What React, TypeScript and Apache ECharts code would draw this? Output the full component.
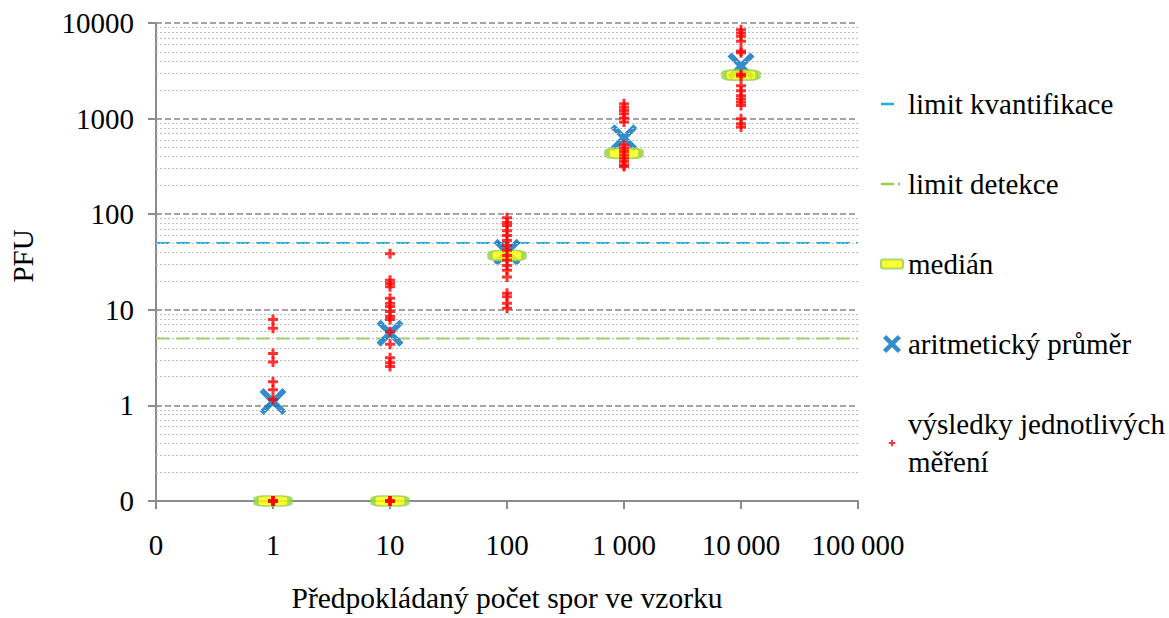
import React, { useEffect, useRef } from "react";
import * as echarts from "echarts";

// ---- data ----
const xTickLabels = ["0", "1", "10", "100", "1\u2009000", "10\u2009000", "100\u2009000"];
const yTickLabels = ["0", "1", "10", "100", "1000", "10000"];
const groups = [1, 10, 100, 1000, 10000];
const medians = [0, 0, 37, 433, 2850];
const means = [1.1, 5.7, 40, 630, 3550];
const limitQuant = 50;
const limitDetect = 5;
const meas1 = [7.9, 6.4, 3.5, 2.85, 1.77, 1.46, 1.15, 0, 0, 0, 0, 0];
const meas10 = [38.5, 20.4, 18.8, 17.4, 13.2, 11.7, 10.8, 9.6, 8.5, 7.9, 5.9, 4.35, 3.16, 2.8, 2.55, 0, 0, 0, 0];
const meas100 = [92, 82, 76, 67, 60, 53, 47, 42, 37, 33, 29, 26, 22, 14.9, 13.7, 11.7, 10.4];
const meas1000 = [1426, 1318, 1216, 1125, 1016, 923, 528, 489, 452, 416, 385, 356, 328, 315];
const meas10000 = [8500, 7860, 7250, 6440, 5080, 4890, 2910, 2795, 2200, 1957, 1738, 1606, 1486, 1369, 998, 885, 818];

const ZERO = 0.1; // axis floor, labelled "0"
const X_MAX = 100000;
const Y_MAX = 10000;
const FONT = "'Liberation Serif', 'Times New Roman', serif";

const nameQuant = "limit kvantifikace";
const nameDetect = "limit detekce";
const nameMedian = "medián";
const nameMean = "aritmetický průměr";
const nameMeas = "výsledky jednotlivých měření";

const z0 = (v: number) => (v <= 0 ? ZERO : v);

const X_PATH =
  "path://M3,0 L10,7 L17,0 L20,3 L13,10 L20,17 L17,20 L10,13 L3,20 L0,17 L7,10 L0,3 Z";
const X_ICON =
  "path://M3.5,0 L10,6.5 L16.5,0 L20,3.5 L13.5,10 L20,16.5 L16.5,20 L10,13.5 L3.5,20 L0,16.5 L6.5,10 L0,3.5 Z";
const PLUS_PATH =
  "path://M3.5,0 H6.5 V3.5 H10 V6.5 H6.5 V10 H3.5 V6.5 H0 V3.5 H3.5 Z";
const PLUS_ICON =
  "path://M3.5,0 H6.5 V3.5 H10 V6.5 H6.5 V10 H3.5 V6.5 H0 V3.5 H3.5 Z M-9,-9 Z M19,19 Z";
const DASH_ICON = "path://M0,0 H13 V2.5 H0 Z M22,0 Z";
const DASHDOT_ICON = "path://M0,0 H13 V2.5 H0 Z M17,0 H19 V2.5 H17 Z M22,0 Z";
const MEDIAN_ICON = "path://M2,0 H18 Q20,0 20,2 V6 Q20,8 18,8 H2 Q0,8 0,6 V2 Q0,0 2,0 Z";

export default function App() {
  const ref = useRef<HTMLDivElement>(null);
  useEffect(() => {
    if (!ref.current) return;
    const chart = echarts.init(ref.current, null, { renderer: "svg" });

    const minorY: number[] = [];
    for (let d = ZERO; d < Y_MAX; d *= 10) {
      for (let k = 2; k <= 9; k++) minorY.push(+(d * k).toPrecision(6));
    }

    const measAll: number[][] = [];
    [meas1, meas10, meas100, meas1000, meas10000].forEach((arr, i) => {
      arr.forEach((v) => measAll.push([groups[i], z0(v)]));
    });

    const axisLabelStyle = { fontFamily: FONT, fontSize: 29, color: "#000" };

    chart.setOption({
      animation: false,
      backgroundColor: "#fff",
      grid: { left: 152, right: 311, top: 23, bottom: 111 },
      xAxis: {
        type: "log",
        logBase: 10,
        min: ZERO,
        max: X_MAX,
        name: "Předpokládaný počet spor ve vzorku",
        nameLocation: "middle",
        nameGap: 82,
        nameTextStyle: { fontFamily: FONT, fontSize: 29.5, color: "#000" },
        axisLine: { show: true, lineStyle: { color: "#8c8c8c", width: 2 } },
        axisTick: { show: true, inside: false, length: 8, lineStyle: { color: "#8c8c8c", width: 2 } },
        minorTick: { show: false },
        splitLine: { show: false },
        axisLabel: {
          ...axisLabelStyle,
          margin: 29,
          formatter: (v: number) => xTickLabels[Math.round(Math.log10(v)) + 1] ?? "",
        },
      },
      yAxis: {
        type: "log",
        logBase: 10,
        min: ZERO,
        max: Y_MAX,
        name: "PFU",
        nameLocation: "middle",
        nameRotate: 90,
        nameGap: 119,
        nameTextStyle: { fontFamily: FONT, fontSize: 29, color: "#000", padding: [0, 0, 0, 12] },
        axisLine: { show: true, lineStyle: { color: "#8c8c8c", width: 2 } },
        axisTick: { show: true, inside: false, length: 8, lineStyle: { color: "#8c8c8c", width: 2 } },
        splitLine: { show: true, lineStyle: { color: "#868686", width: 1.5, type: [6, 3] } },
        axisLabel: {
          ...axisLabelStyle,
          margin: 22,
          formatter: (v: number) => yTickLabels[Math.round(Math.log10(v)) + 1] ?? "",
        },
      },
      legend: {
        orient: "vertical",
        left: 875,
        top: 80,
        itemGap: 42,
        itemWidth: 22,
        itemHeight: 18,
        symbolKeepAspect: true,
        selectedMode: false,
        textStyle: { fontFamily: FONT, fontSize: 29, lineHeight: 38, color: "#000" },
        formatter: (name: string) =>
          name === nameMeas ? "výsledky jednotlivých\nměření" : name,
        data: [
          { name: nameQuant, icon: DASH_ICON },
          { name: nameDetect, icon: DASHDOT_ICON },
          { name: nameMedian, icon: MEDIAN_ICON },
          { name: nameMean, icon: X_ICON },
          { name: nameMeas, icon: PLUS_ICON },
        ],
      },
      series: [
        {
          name: "_grid",
          type: "line",
          data: [[ZERO, ZERO]],
          showSymbol: false,
          symbol: "none",
          silent: true,
          z: 1,
          markLine: {
            silent: true,
            symbol: ["none", "none"],
            label: { show: false },
            lineStyle: { color: "#c0c0c0", width: 1.2, type: [2, 2] },
            data: minorY.map((v) => ({ yAxis: v })),
          },
        },
        {
          name: nameQuant,
          type: "line",
          data: [
            [ZERO, limitQuant],
            [X_MAX, limitQuant],
          ],
          symbol: "none",
          lineStyle: { color: "#21aee6", width: 2, type: [14, 6] },
          itemStyle: { color: "#21aee6" },
          z: 3,
        },
        {
          name: nameDetect,
          type: "line",
          data: [
            [ZERO, limitDetect],
            [X_MAX, limitDetect],
          ],
          symbol: "none",
          lineStyle: { color: "#92d050", width: 2, type: [14, 6] },
          itemStyle: { color: "#92d050" },
          z: 3,
        },
        {
          name: nameMean,
          type: "scatter",
          data: groups.map((g, i) => [g, z0(means[i])]),
          symbol: X_PATH,
          symbolSize: 27,
          clip: false,
          itemStyle: { color: "#0070c0" },
          z: 4,
        },
        {
          name: nameMedian,
          type: "scatter",
          data: groups.map((g, i) => [g, z0(medians[i])]),
          symbol: "roundRect",
          symbolSize: [34, 10],
          clip: false,
          itemStyle: { color: "#ffff00", borderColor: "#92d050", borderWidth: 3 },
          z: 5,
        },
        {
          name: nameMeas,
          type: "scatter",
          data: measAll,
          symbol: PLUS_PATH,
          symbolSize: 10,
          clip: false,
          itemStyle: { color: "#ff0000" },
          z: 6,
        },
      ],
    });
    return () => chart.dispose();
  }, []);
  return (
    <div
      ref={ref}
      style={{ position: "fixed", left: 0, top: 0, width: 1169, height: 618 }}
    />
  );
}
